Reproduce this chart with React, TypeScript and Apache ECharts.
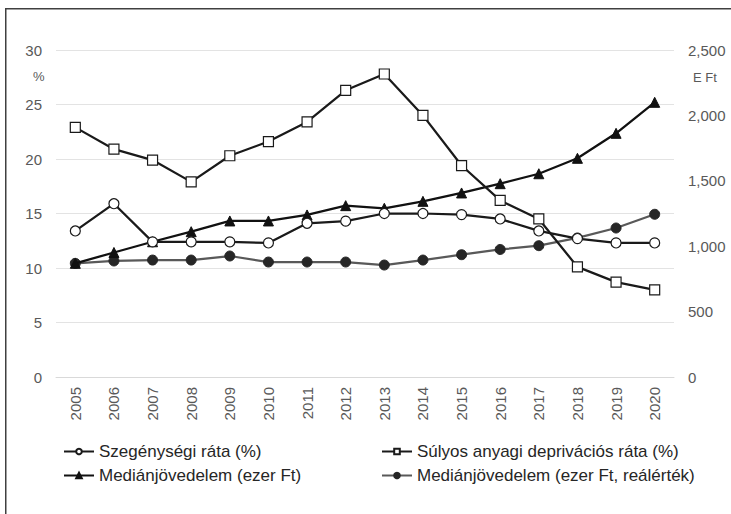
import React, { useEffect, useRef } from "react";
import * as echarts from "echarts";

const years = ["2005","2006","2007","2008","2009","2010","2011","2012","2013","2014","2015","2016","2017","2018","2019","2020"];
const povertyRate = [13.4, 15.9, 12.4, 12.4, 12.4, 12.3, 14.1, 14.3, 15.0, 15.0, 14.9, 14.5, 13.4, 12.7, 12.3, 12.3];
const deprivationRate = [22.9, 20.9, 19.9, 17.9, 20.3, 21.6, 23.4, 26.3, 27.8, 24.0, 19.4, 16.2, 14.5, 10.1, 8.7, 8.0];
const medianIncome = [869, 952, 1034, 1111, 1193, 1193, 1239, 1310, 1290, 1343, 1407, 1478, 1554, 1672, 1863, 2100];
const medianIncomeReal = [869, 887, 894, 894, 925, 879, 879, 879, 856, 894, 935, 975, 1004, 1063, 1139, 1244];
const leftTicks = { min: 0, max: 30, interval: 5 };
const rightTicks = { min: 0, max: 2500, interval: 500 };
const names = [
  "Szegénységi ráta (%)",
  "Súlyos anyagi deprivációs ráta (%)",
  "Mediánjövedelem (ezer Ft)",
  "Mediánjövedelem (ezer Ft, reálérték)",
];

const FONT = "'Liberation Sans', Arial, sans-serif";

export default function App() {
  const ref = useRef<HTMLDivElement>(null);
  useEffect(() => {
    if (!ref.current) return;
    const chart = echarts.init(ref.current, null, { renderer: "svg" });
    const labelColor = "#595959";
    const legendCommon = {
      top: 443,
      orient: "vertical",
      padding: 0,
      itemGap: 7,
      itemWidth: 30,
      itemHeight: 7,
      textStyle: { fontSize: 17, color: "#262626", fontFamily: FONT },
    };
    chart.setOption({
      animation: false,
      backgroundColor: "#fff",
      textStyle: { fontFamily: FONT },
      grid: { left: 56, right: 57, top: 50, bottom: 137, containLabel: false },
      xAxis: {
        type: "category",
        data: years,
        boundaryGap: true,
        axisLine: { show: true, lineStyle: { color: "#d9d9d9", width: 1 } },
        axisTick: { show: false },
        axisLabel: { rotate: 90, fontSize: 15, color: labelColor, margin: 10, fontFamily: FONT },
      },
      yAxis: [
        {
          type: "value",
          ...leftTicks,
          axisLine: { show: false },
          axisTick: { show: false },
          splitLine: { lineStyle: { color: "#e3e3e3", width: 1 } },
          axisLabel: { fontSize: 15, color: labelColor, margin: 14, fontFamily: FONT },
        },
        {
          type: "value",
          ...rightTicks,
          position: "right",
          axisLine: { show: false },
          axisTick: { show: false },
          splitLine: { show: false },
          axisLabel: {
            fontSize: 15,
            color: labelColor,
            margin: 14,
            fontFamily: FONT,
            formatter: (v: number) => v.toLocaleString("en-US"),
          },
        },
      ],
      legend: [
        { ...legendCommon, left: 63, data: [names[0], names[2]] },
        { ...legendCommon, left: 381, data: [names[1], names[3]] },
      ],
      graphic: [
        {
          type: "rect",
          left: 5,
          top: 8,
          shape: { width: 800, height: 600 },
          style: { fill: "transparent", stroke: "#404040", lineWidth: 1.5 },
          silent: true,
        },
        {
          type: "text",
          left: 33,
          top: 70,
          style: { text: "%", fontSize: 13, fill: labelColor, fontFamily: FONT },
        },
        {
          type: "text",
          left: 693,
          top: 71,
          style: { text: "E Ft", fontSize: 13, fill: labelColor, fontFamily: FONT },
        },
      ],
      series: [
        {
          name: names[0],
          type: "line",
          yAxisIndex: 0,
          data: povertyRate,
          symbol: "circle",
          symbolSize: 10,
          z: 4,
          lineStyle: { color: "#1a1a1a", width: 2.25 },
          itemStyle: { color: "#fff", borderColor: "#1a1a1a", borderWidth: 1.2 },
        },
        {
          name: names[1],
          type: "line",
          yAxisIndex: 0,
          data: deprivationRate,
          symbol: "rect",
          symbolSize: 10,
          z: 5,
          lineStyle: { color: "#1a1a1a", width: 2.25 },
          itemStyle: { color: "#fff", borderColor: "#1a1a1a", borderWidth: 1.2 },
        },
        {
          name: names[2],
          type: "line",
          yAxisIndex: 1,
          data: medianIncome,
          symbol: "triangle",
          symbolSize: 10,
          z: 3,
          lineStyle: { color: "#111", width: 2.25 },
          itemStyle: { color: "#111", borderColor: "#111", borderWidth: 1 },
        },
        {
          name: names[3],
          type: "line",
          yAxisIndex: 1,
          data: medianIncomeReal,
          symbol: "circle",
          symbolSize: 10,
          z: 2,
          lineStyle: { color: "#595959", width: 2.25 },
          itemStyle: { color: "#262626", borderColor: "#262626", borderWidth: 1 },
        },
      ],
    });
    return () => chart.dispose();
  }, []);
  return (
    <div
      ref={ref}
      style={{ position: "fixed", left: 0, top: 0, width: 731, height: 514 }}
    />
  );
}
